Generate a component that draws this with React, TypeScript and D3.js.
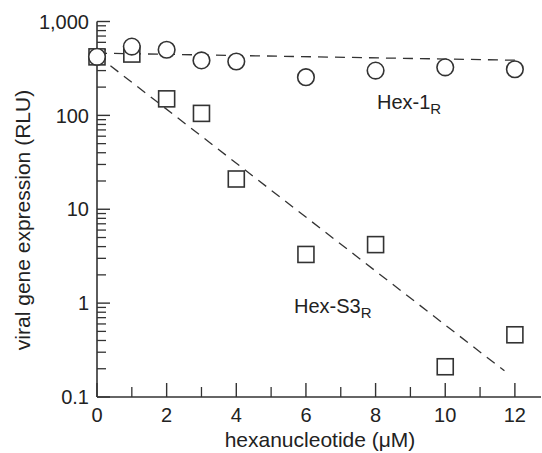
import React from 'react';
import * as d3 from 'd3';

const doses = [0, 1, 2, 3, 4, 6, 8, 10, 12];
const hex1 = [420, 540, 500, 385, 375, 255, 300, 325, 310];
const hexS3 = [420, 450, 150, 105, 21, 3.3, 4.2, 0.21, 0.46];

// fitted lines, as [dose, value] end points
const hex1Fit: [number, number][] = [[0, 460], [12, 387]];
const hexS3Fit: [number, number][] = [[0, 436], [11.7, 0.19]];

const yMajor = [0.1, 1, 10, 100, 1000];
const yLabels = ['0.1', '1', '10', '100', '1,000'];
const xMajor = [0, 2, 4, 6, 8, 10, 12];
const xMinor = [1, 3, 5, 7, 9, 11];

const W = 542;
const H = 453;
const ink = '#333';
const font = 'Liberation Sans, Arial, Helvetica, sans-serif';

function App() {
  const x = d3.scaleLinear().domain([0, 12.75]).range([97, 541]);
  const y = d3.scaleLog().domain([0.1, 1000]).range([397, 21.5]);

  const yMinor: number[] = [];
  yMajor.slice(0, -1).forEach((d) => {
    for (let k = 2; k <= 9; k++) yMinor.push(d * k);
  });

  const line = d3.line<[number, number]>()
    .x((d) => x(d[0]))
    .y((d) => y(d[1]));

  const x0 = x(0);
  const yBase = y(0.1);

  return (
    <svg width={W} height={H} style={{ position: 'absolute', left: 0, top: 0 }}>
      <rect width={W} height={H} fill="#fff" />

      {/* fits */}
      <path d={line(hex1Fit) || ''} fill="none" stroke={ink} strokeWidth={1.3} strokeDasharray="10,7" />
      <path d={line(hexS3Fit) || ''} fill="none" stroke={ink} strokeWidth={1.3} strokeDasharray="10,7" />

      {/* axes */}
      <line x1={x0} x2={x0} y1={yBase} y2={y(1000)} stroke={ink} strokeWidth={1.6} />
      <line x1={x0} x2={541} y1={yBase} y2={yBase} stroke={ink} strokeWidth={1.6} />

      {yMajor.map((d, i) => (
        <g key={'ym' + d}>
          <line x1={x0} x2={x0 + 13} y1={y(d)} y2={y(d)} stroke={ink} strokeWidth={1.4} />
          <text x={89} y={y(d)} dy="0.36em" textAnchor="end" fontSize={20} fontFamily={font} fill="#222">
            {yLabels[i]}
          </text>
        </g>
      ))}
      {yMinor.map((d) => (
        <line key={'yn' + d} x1={x0} x2={x0 + 9} y1={y(d)} y2={y(d)} stroke={ink} strokeWidth={1.3} />
      ))}

      {xMajor.map((d) => (
        <g key={'xm' + d}>
          <line x1={x(d)} x2={x(d)} y1={yBase} y2={yBase - 14} stroke={ink} strokeWidth={1.4} />
          <text x={x(d)} y={422} textAnchor="middle" fontSize={20} fontFamily={font} fill="#222">
            {d}
          </text>
        </g>
      ))}
      {xMinor.map((d) => (
        <line key={'xn' + d} x1={x(d)} x2={x(d)} y1={yBase} y2={yBase - 10} stroke={ink} strokeWidth={1.3} />
      ))}

      {/* markers */}
      {doses.map((d, i) => (
        <rect key={'s' + d} x={x(d) - 8} y={y(hexS3[i]) - 8} width={16} height={16}
          fill="#fff" stroke={ink} strokeWidth={1.6} />
      ))}
      {doses.map((d, i) => (
        <circle key={'c' + d} cx={x(d)} cy={y(hex1[i])} r={8.3}
          fill="#fff" stroke={ink} strokeWidth={1.6} />
      ))}

      {/* series labels */}
      <text x={377} y={109} fontSize={20} fontFamily={font} fill="#222">
        Hex-1<tspan fontSize={15} dy={5}>R</tspan>
      </text>
      <text x={294} y={313} fontSize={20} fontFamily={font} fill="#222">
        Hex-S3<tspan fontSize={15} dy={5}>R</tspan>
      </text>

      {/* axis titles */}
      <text x={320} y={447} textAnchor="middle" fontSize={21} fontFamily={font} fill="#222">
        hexanucleotide (μM)
      </text>
      <text transform={`translate(30,${220}) rotate(-90)`} textAnchor="middle" fontSize={21} fontFamily={font} fill="#222">
        viral gene expression (RLU)
      </text>
    </svg>
  );
}

export default App;
